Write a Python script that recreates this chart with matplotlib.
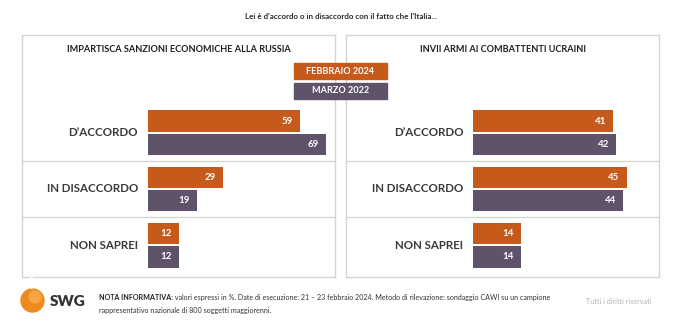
import numpy as np
import matplotlib
matplotlib.use("Agg")
import matplotlib.pyplot as plt
from matplotlib.patches import Rectangle, Circle, Arc

plt.rcParams['font.family'] = ['Lato', 'DejaVu Sans']

# data (%)
categories = ["D\u2019ACCORDO", "IN DISACCORDO", "NON SAPREI"]
panel_titles = ["IMPARTISCA SANZIONI ECONOMICHE ALLA RUSSIA",
                "INVII ARMI AI COMBATTENTI UCRAINI"]
series_names = ["FEBBRAIO 2024", "MARZO 2022"]
sanzioni_feb2024 = [59, 29, 12]
sanzioni_mar2022 = [69, 19, 12]
armi_feb2024 = [41, 45, 14]
armi_mar2022 = [42, 44, 14]

ORANGE = "#C55A1B"
PURPLE = "#5F5369"
BOX = "#D4D4D4"
TEXT = "#2B2B2B"

W, H = 680, 322
fig = plt.figure(figsize=(W / 100, H / 100), dpi=100)
fig.patch.set_facecolor("white")


def px_axes(x0, y0, x1, y1):
    # axes placed by pixel box (top-left origin)
    return fig.add_axes([x0 / W, 1 - y1 / H, (x1 - x0) / W, (y1 - y0) / H])


def draw_panel(ax, feb, mar, xlim):
    y = np.arange(len(categories))
    ax.barh(y - 0.205, feb, height=0.375, color=ORANGE)
    ax.barh(y + 0.205, mar, height=0.375, color=PURPLE)
    ax.set_xlim(*xlim)
    ax.set_ylim(2.56, -1.73)
    for i in range(len(categories) - 1):
        ax.axhline(i + 0.5, color=BOX, lw=0.9)
    for i, cat in enumerate(categories):
        ax.annotate(cat, xy=(0, i), xytext=(-7, 0), textcoords="offset points",
                    ha="right", va="center", fontsize=8.3, fontweight="bold",
                    color="#3A3A3A")
        for off, v in ((-0.205, feb[i]), (0.205, mar[i])):
            ax.annotate(str(v), xy=(v, i + off), xytext=(-5, 0),
                        textcoords="offset points", ha="right", va="center",
                        fontsize=7, fontweight="bold", color="white")
    ax.set_xticks([])
    ax.set_yticks([])
    for s in ax.spines.values():
        s.set_color(BOX)
        s.set_linewidth(1.0)


ax1 = px_axes(22, 35, 335, 277)
draw_panel(ax1, sanzioni_feb2024, sanzioni_mar2022, (-48.8, 72.5))
ax2 = px_axes(346, 35, 659, 277)
draw_panel(ax2, armi_feb2024, armi_mar2022, (-37.2, 54.5))

# overlay in pixel coordinates for titles, legend and footer
ov = fig.add_axes([0, 0, 1, 1], zorder=5)
ov.set_xlim(0, W)
ov.set_ylim(H, 0)
ov.axis("off")

ov.text(341, 16, "Lei \u00e8 d'accordo o in disaccordo con il fatto che l'Italia...",
        ha="center", va="center", fontsize=5.8, fontweight="bold", color=TEXT)
ov.text(179, 49, panel_titles[0], ha="center", va="center",
        fontsize=6.6, fontweight="bold", color="#1E1E1E")
ov.text(502.5, 49, panel_titles[1], ha="center", va="center",
        fontsize=6.6, fontweight="bold", color="#1E1E1E")

# legend boxes
for (name, col, yc) in ((series_names[0], ORANGE, 71), (series_names[1], PURPLE, 90.5)):
    ov.add_patch(Rectangle((294, yc - 8), 93, 16, color=col, zorder=6))
    ov.text(340.5, yc, name, ha="center", va="center", fontsize=6.6,
            fontweight="bold", color="white", zorder=7)

# logo
ov.add_patch(Circle((32.5, 300.5), 11.5, color="#EE8A1E", zorder=6))
ov.add_patch(Circle((35, 297), 6, color="#F6A640", zorder=6))
for r, t1, t2 in ((9, 200, 330), (13, 215, 305), (17, 225, 290)):
    ov.add_patch(Arc((40, 292), 2 * r, 2 * r, theta1=t1, theta2=t2,
                     color="white", lw=0.9, zorder=7))
ov.text(50, 302, "SWG", ha="left", va="center", fontsize=11,
        fontweight="heavy", color="#333333")

# footnote
nota = ov.text(99, 297.5, "NOTA INFORMATIVA:", ha="left", va="center",
               fontsize=5.1, fontweight="bold", color="#222222")
ov.annotate(" valori espressi in %. Date di esecuzione: 21 \u2013 23 febbraio 2024. "
            "Metodo di rilevazione: sondaggio CAWI su un campione",
            xy=(1, 0.5), xycoords=nota, ha="left", va="center",
            fontsize=5.1, color="#333333")
ov.text(99, 310, "rappresentativo nazionale di 800 soggetti maggiorenni.",
        ha="left", va="center", fontsize=5.1, color="#333333")
ov.text(652, 301, "Tutti i diritti riservati", ha="right", va="center",
        fontsize=5.2, color="#B5B5B5")

fig.savefig("out.png", dpi=100, facecolor="white")
